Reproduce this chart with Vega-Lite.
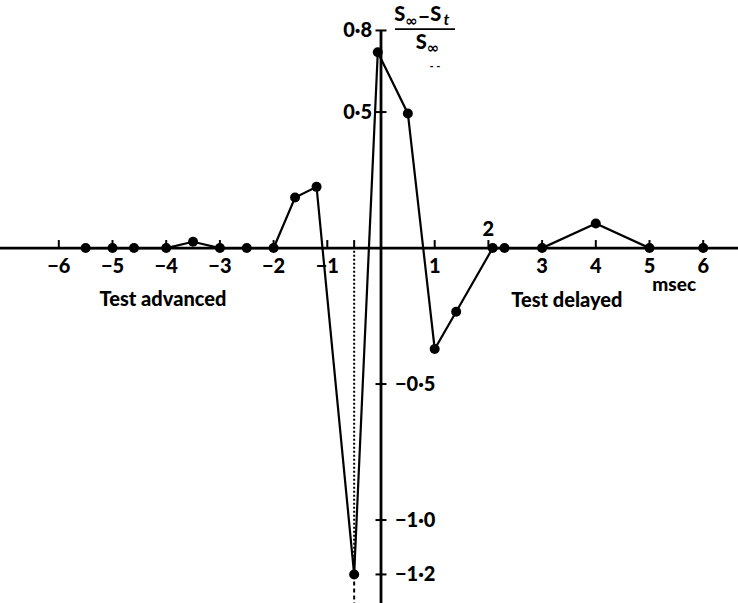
{
  "$schema": "https://vega.github.io/schema/vega-lite/v6.json",
  "width": 738,
  "height": 603,
  "autosize": "none",
  "padding": 0,
  "background": "white",
  "config": {"view": {"stroke": null}, "text": {"font": "Lato", "fontWeight": "bold", "color": "black"}},
  "datasets": {
    "pts": [
      {"x": -5.5, "y": 0}, {"x": -5.0, "y": 0}, {"x": -4.6, "y": 0}, {"x": -4.0, "y": 0},
      {"x": -3.5, "y": 0.023}, {"x": -3.0, "y": 0}, {"x": -2.5, "y": 0}, {"x": -2.0, "y": 0},
      {"x": -1.6, "y": 0.186}, {"x": -1.2, "y": 0.225}, {"x": -0.5, "y": -1.2}, {"x": -0.06, "y": 0.72},
      {"x": 0.5, "y": 0.495}, {"x": 1.0, "y": -0.371}, {"x": 1.4, "y": -0.234}, {"x": 2.08, "y": 0},
      {"x": 2.3, "y": 0}, {"x": 3.0, "y": 0}, {"x": 4.0, "y": 0.09}, {"x": 5.0, "y": 0}, {"x": 6.0, "y": 0}
    ],
    "xaxis": [{"x": -7.1, "x2": 6.7, "y": 0}],
    "yaxis": [{"x": 0, "y": 0.8, "y2": -1.31}],
    "dotted": [{"x": -0.5, "y": -0.01, "y2": -1.2}],
    "dashed": [{"x": -0.5, "y": -1.2, "y2": -1.31}],
    "xticks": [{"x": -6, "y": 0}, {"x": -5, "y": 0}, {"x": -4, "y": 0}, {"x": -3, "y": 0}, {"x": -2, "y": 0}, {"x": -1, "y": 0}, {"x": -0.5, "y": 0}, {"x": 1, "y": 0}, {"x": 2, "y": 0}, {"x": 3, "y": 0}, {"x": 4, "y": 0}, {"x": 5, "y": 0}, {"x": 6, "y": 0}],
    "yticks": [{"x": 0, "y": 0.8}, {"x": 0, "y": 0.5}, {"x": 0, "y": -0.5}, {"x": 0, "y": -1.0}, {"x": 0, "y": -1.2}],
    "xlabels": [{"x": -6, "y": 0, "t": "−6"}, {"x": -5, "y": 0, "t": "−5"}, {"x": -4, "y": 0, "t": "−4"}, {"x": -3, "y": 0, "t": "−3"}, {"x": -2, "y": 0, "t": "−2"}, {"x": -1, "y": 0, "t": "−1"}, {"x": 1, "y": 0, "t": "1"}, {"x": 3, "y": 0, "t": "3"}, {"x": 4, "y": 0, "t": "4"}, {"x": 5, "y": 0, "t": "5"}, {"x": 6, "y": 0, "t": "6"}],
    "xlabelsUp": [{"x": 2, "y": 0, "t": "2"}],
    "ylabelsL": [{"x": 0, "y": 0.8, "t": "0·8"}, {"x": 0, "y": 0.5, "t": "0·5"}],
    "ylabelsR": [{"x": 0, "y": -0.5, "t": "−0·5"}, {"x": 0, "y": -1.0, "t": "−1·0"}, {"x": 0, "y": -1.2, "t": "−1·2"}],
    "notes": [{"x": -4.06, "y": -0.191, "t": "Test advanced"}, {"x": 3.46, "y": -0.195, "t": "Test delayed"}],
    "unit": [{"x": 5.46, "y": -0.136, "t": "msec"}],
    "fracMain": [{"x": 0.35, "y": 0.857, "t": "S"}, {"x": 0.8, "y": 0.846, "t": "−"}, {"x": 1.02, "y": 0.857, "t": "S"}, {"x": 0.75, "y": 0.755, "t": "S"}],
    "fracSub": [{"x": 0.57, "y": 0.834, "t": "∞"}, {"x": 0.97, "y": 0.736, "t": "∞"}],
    "fracT": [{"x": 1.22, "y": 0.84, "t": "t"}],
    "fracBar": [{"x": 0.261, "x2": 1.378, "y": 0.805}],
    "dashes": [{"x": 1.006, "y": 0.668, "t": "- -"}]
  },
  "encoding": {
    "x": {"field": "x", "type": "quantitative", "scale": {"domain": [-7.095, 6.648], "nice": false, "zero": false}, "axis": null},
    "y": {"field": "y", "type": "quantitative", "scale": {"domain": [-1.305, 0.912], "nice": false, "zero": false}, "axis": null}
  },
  "layer": [
    {"data": {"name": "xaxis"}, "mark": {"type": "rule", "strokeWidth": 2.8, "color": "black"}, "encoding": {"x2": {"field": "x2"}}},
    {"data": {"name": "yaxis"}, "mark": {"type": "rule", "strokeWidth": 2.8, "color": "black"}, "encoding": {"y2": {"field": "y2"}}},
    {"data": {"name": "dotted"}, "mark": {"type": "rule", "strokeWidth": 2, "color": "black", "strokeDash": [2, 2]}, "encoding": {"y2": {"field": "y2"}}},
    {"data": {"name": "dashed"}, "mark": {"type": "rule", "strokeWidth": 2, "color": "black", "strokeDash": [4, 3]}, "encoding": {"y2": {"field": "y2"}}},
    {"data": {"name": "xticks"}, "mark": {"type": "tick", "orient": "vertical", "size": 8, "thickness": 2, "yOffset": -4, "color": "black", "opacity": 1}},
    {"data": {"name": "yticks"}, "mark": {"type": "tick", "orient": "horizontal", "size": 11, "thickness": 2, "color": "black", "opacity": 1}},
    {"data": {"name": "pts"}, "mark": {"type": "line", "strokeWidth": 2.2, "color": "black"}},
    {"data": {"name": "pts"}, "mark": {"type": "circle", "size": 100, "color": "black", "opacity": 1}},
    {"data": {"name": "xlabels"}, "mark": {"type": "text", "fontSize": 20, "fontWeight": 900, "dy": 19, "align": "center", "baseline": "middle"}, "encoding": {"text": {"field": "t"}}},
    {"data": {"name": "xlabelsUp"}, "mark": {"type": "text", "fontSize": 20, "fontWeight": 900, "dy": -18, "align": "center", "baseline": "middle"}, "encoding": {"text": {"field": "t"}}},
    {"data": {"name": "ylabelsL"}, "mark": {"type": "text", "fontSize": 20, "fontWeight": 900, "dx": -9, "dy": 1, "align": "right", "baseline": "middle"}, "encoding": {"text": {"field": "t"}}},
    {"data": {"name": "ylabelsR"}, "mark": {"type": "text", "fontSize": 20, "fontWeight": 900, "dx": 14, "dy": 1, "align": "left", "baseline": "middle"}, "encoding": {"text": {"field": "t"}}},
    {"data": {"name": "notes"}, "mark": {"type": "text", "fontSize": 20, "fontWeight": 900, "align": "center", "baseline": "middle"}, "encoding": {"text": {"field": "t"}}},
    {"data": {"name": "unit"}, "mark": {"type": "text", "fontSize": 19, "fontWeight": 900, "align": "center", "baseline": "middle"}, "encoding": {"text": {"field": "t"}}},
    {"data": {"name": "fracMain"}, "mark": {"type": "text", "fontSize": 20, "fontWeight": 900, "align": "center", "baseline": "middle"}, "encoding": {"text": {"field": "t"}}},
    {"data": {"name": "fracSub"}, "mark": {"type": "text", "font": "DejaVu Sans", "fontWeight": "bold", "fontSize": 15, "align": "center", "baseline": "middle"}, "encoding": {"text": {"field": "t"}}},
    {"data": {"name": "fracT"}, "mark": {"type": "text", "fontSize": 16, "fontStyle": "italic", "align": "center", "baseline": "middle"}, "encoding": {"text": {"field": "t"}}},
    {"data": {"name": "fracBar"}, "mark": {"type": "rule", "strokeWidth": 1.8, "color": "black"}, "encoding": {"x2": {"field": "x2"}}},
    {"data": {"name": "dashes"}, "mark": {"type": "text", "font": "DejaVu Sans", "fontSize": 9, "align": "center", "baseline": "middle"}, "encoding": {"text": {"field": "t"}}}
  ]
}
